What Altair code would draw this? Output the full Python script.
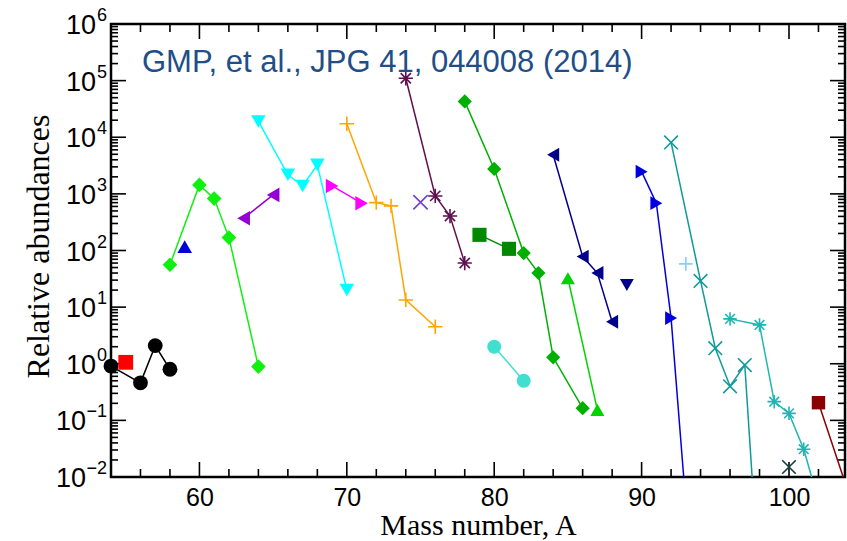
import altair as alt
import pandas as pd

# ---------------- data ----------------
series_names = [
    "black circles", "red square", "lime diamonds", "blue triangle-up",
    "violet triangles-left", "cyan triangles-down", "magenta triangles-right",
    "orange plus", "violet x", "maroon asterisks", "green diamonds",
    "dark green squares", "green triangles-up", "turquoise circles",
    "navy triangles-left", "navy triangle-down", "blue triangles-right",
    "light blue plus", "teal x", "dark teal x", "sea green asterisks",
    "dark red squares",
]

A_black = [54, 56, 57, 58]
v_black = [0.91, 0.46, 2.09, 0.80]
A_red = [55]
v_red = [1.06]
A_lime = [58, 60, 61, 62, 64]
v_lime = [56, 1440, 826, 169, 0.89]
A_blue_up = [59]
v_blue_up = [117]
A_violet_left = [63, 65]
v_violet_left = [372, 960]
A_cyan = [64, 66, 67, 68, 70]
v_cyan = [19000, 2170, 1380, 3250, 20]
A_magenta = [69, 71]
v_magenta = [1380, 684]
A_orange = [70, 72, 73, 74, 76]
v_orange = [17300, 700, 615, 13.4, 4.5]
A_violet_x = [75]
v_violet_x = [711]
A_maroon = [74, 76, 77, 78]
v_maroon = [110000, 920, 406, 60]
A_green = [78, 80, 82, 83, 84, 86]
v_green = [43000, 2760, 90, 40, 1.3, 0.164]
A_dkgreen = [79, 81]
v_dkgreen = [189, 107]
A_green_up = [85, 87]
v_green_up = [32.4, 0.153]
A_turq = [80, 82]
v_turq = [2.0, 0.50]
A_navy_left = [84, 86, 87, 88]
v_navy_left = [4900, 78, 40, 5.5]
A_navy_down = [89]
v_navy_down = [24.7]
A_blue_right = [90, 91, 92, 93]
v_blue_right = [2470, 684, 6.4, 0.0034]
A_ltblue = [93]
v_ltblue = [58]
A_teal_x = [92, 94, 95, 96, 97, 98]
v_teal_x = [8100, 29, 1.88, 0.40, 0.95, 0.0001]
A_dkteal_x = [100]
v_dkteal_x = [0.015]
A_seagreen = [96, 98, 99, 100, 101, 102]
v_seagreen = [6.2, 4.85, 0.214, 0.133, 0.031, 0.0038]
A_dkred = [102, 104]
v_dkred = [0.205, 0.0056]

x_major_ticks = [60, 70, 80, 90, 100]
x_minor_ticks = [56, 58, 62, 64, 66, 68, 72, 74, 76, 78, 82, 84, 86, 88, 92, 94, 96, 98, 102]
y_exponents = [-2, -1, 0, 1, 2, 3, 4, 5, 6]
y_minor_mult = [2, 3, 4, 5, 6, 7, 8, 9]

citation = "GMP, et al., JPG 41, 044008 (2014)"
x_title = "Mass number, A"
y_title = "Relative abundances"

# ---------------- styles ----------------
PLUS = "M-1,0L1,0M0,-1L0,1"
CROSS = "M-1,-1L1,1M-1,1L1,-1"
STAR = "M-1,0L1,0M0,-1L0,1M-0.72,-0.72L0.72,0.72M-0.72,0.72L0.72,-0.72"

series_colors = [
    "#000000", "#ff0000", "#10f010", "#0000dd", "#9400d3", "#00ffff",
    "#ff00ff", "#ffa500", "#7040d0", "#601050", "#00b000", "#008800",
    "#00d400", "#40e0d0", "#00008b", "#00008b", "#0000e0", "#87cefa",
    "#109a9a", "#104040", "#1fb5b5", "#8b0000",
]
series_shapes = [
    "circle", "square", "diamond", "triangle-up", "triangle-left",
    "triangle-down", "triangle-right", PLUS, CROSS, STAR, "diamond",
    "square", "triangle-up", "circle", "triangle-left", "triangle-down",
    "triangle-right", PLUS, CROSS, CROSS, STAR, "square",
]
series_filled = [
    True, True, True, True, True, True, True, False, False, False, True,
    True, True, True, True, True, True, False, False, False, False, True,
]
series_sizes = [
    220, 180, 230, 250, 250, 260, 250, 220, 120, 190, 230,
    200, 250, 200, 250, 250, 250, 220, 120, 120, 190, 190,
]

all_A = [A_black, A_red, A_lime, A_blue_up, A_violet_left, A_cyan, A_magenta,
         A_orange, A_violet_x, A_maroon, A_green, A_dkgreen, A_green_up, A_turq,
         A_navy_left, A_navy_down, A_blue_right, A_ltblue, A_teal_x, A_dkteal_x,
         A_seagreen, A_dkred]
all_v = [v_black, v_red, v_lime, v_blue_up, v_violet_left, v_cyan, v_magenta,
         v_orange, v_violet_x, v_maroon, v_green, v_dkgreen, v_green_up, v_turq,
         v_navy_left, v_navy_down, v_blue_right, v_ltblue, v_teal_x, v_dkteal_x,
         v_seagreen, v_dkred]

X_MIN, X_MAX = 54, 103.8
Y_MIN, Y_MAX = 0.01, 1e6

rows = []
for name, filled, As, vs in zip(series_names, series_filled, all_A, all_v):
    for a, v in zip(As, vs):
        rows.append({"series": name, "filled": filled, "A": a, "v": v})
df = pd.DataFrame(rows)

W, H = 734, 453

x_scale = alt.Scale(domain=[X_MIN, X_MAX], nice=False, zero=False)
y_scale = alt.Scale(type="log", domain=[Y_MIN, Y_MAX], nice=False)

x_axis = alt.Axis(
    values=x_major_ticks, format="d", grid=False, domain=False, ticks=False,
    tickSize=0, labelFont="Liberation Sans", labelFontSize=25,
    labelColor="black", labelPadding=28, labelBaseline="alphabetic",
    labelOverlap=False, labelFlush=False,
    title=x_title, titleFont="Liberation Serif", titleFontSize=30,
    titleFontWeight="normal", titleColor="black", titleX=367, titleY=57,
    titleAlign="center", titleBaseline="alphabetic",
)
y_axis = alt.Axis(
    labels=False, ticks=False, tickSize=0, domain=False, grid=False,
    title=y_title, titleFont="Liberation Serif", titleFontSize=32,
    titleFontWeight="normal", titleColor="black", titleX=-73, titleY=222,
    titleAngle=270, titleAlign="center", titleBaseline="middle",
)


def X(field="A"):
    return alt.X(f"{field}:Q", scale=x_scale, axis=x_axis)


def Y(field="v"):
    return alt.Y(f"{field}:Q", scale=y_scale, axis=y_axis)


color_enc = alt.Color("series:N", scale=alt.Scale(domain=series_names, range=series_colors), legend=None)
shape_enc = alt.Shape("series:N", scale=alt.Scale(domain=series_names, range=series_shapes), legend=None)
size_enc = alt.Size("series:N", scale=alt.Scale(domain=series_names, range=series_sizes), legend=None)

# ---------------- ticks (inward, all four sides) ----------------
xmaj = pd.DataFrame({"A": x_major_ticks})
xmin = pd.DataFrame({"A": x_minor_ticks})
ymaj = pd.DataFrame({"v": [10.0 ** e for e in y_exponents]})
ymin = pd.DataFrame({"v": [m * 10.0 ** e for e in y_exponents[:-1] for m in y_minor_mult]})

tick_layers = []
for d, L in ((xmaj, 15), (xmin, 8)):
    tick_layers.append(alt.Chart(d).mark_rule(color="black", strokeWidth=1.6).encode(
        x=X(), y=alt.value(H), y2=alt.value(H - L)))
    tick_layers.append(alt.Chart(d).mark_rule(color="black", strokeWidth=1.6).encode(
        x=X(), y=alt.value(0), y2=alt.value(L)))
for d, L in ((ymaj, 15), (ymin, 7)):
    tick_layers.append(alt.Chart(d).mark_rule(color="black", strokeWidth=1.6).encode(
        y=Y(), x=alt.value(0), x2=alt.value(L)))
    tick_layers.append(alt.Chart(d).mark_rule(color="black", strokeWidth=1.6).encode(
        y=Y(), x=alt.value(W - L), x2=alt.value(W)))

# ---------------- series ----------------
in_view = f"datum.A >= {X_MIN} && datum.A <= {X_MAX} && datum.v >= {Y_MIN} && datum.v <= {Y_MAX}"

lines = alt.Chart(df).mark_line(strokeWidth=1.5, clip=True).encode(
    x=X(), y=Y(), color=color_enc, detail="series:N", order="A:Q")

filled_pts = alt.Chart(df).transform_filter("datum.filled").transform_filter(in_view).mark_point(
    filled=True, opacity=1).encode(
    x=X(), y=Y(), color=color_enc, shape=shape_enc, size=size_enc)

open_pts = alt.Chart(df).transform_filter("!datum.filled").transform_filter(in_view).mark_point(
    filled=False, opacity=1, strokeWidth=1.6).encode(
    x=X(), y=Y(), color=color_enc, shape=shape_enc, size=size_enc)

# ---------------- y tick labels 10^n ----------------
ylab = pd.DataFrame({
    "e": y_exponents,
    "v": [10.0 ** e for e in y_exponents],
    "base": ["10"] * len(y_exponents),
    "sup": [("\u2212" + str(-e)) if e < 0 else str(e) for e in y_exponents],
})
base_pos = alt.Chart(ylab).transform_filter("datum.e >= 0").mark_text(
    align="right", baseline="middle", font="Liberation Sans", fontSize=27,
    color="black", dy=2).encode(x=alt.value(-15), y=Y(), text="base:N")
base_neg = alt.Chart(ylab).transform_filter("datum.e < 0").mark_text(
    align="right", baseline="middle", font="Liberation Sans", fontSize=27,
    color="black", dy=2).encode(x=alt.value(-25), y=Y(), text="base:N")
sups = alt.Chart(ylab).mark_text(
    align="right", baseline="middle", font="Liberation Sans", fontSize=18,
    color="black", dy=-8).encode(x=alt.value(-4), y=Y(), text="sup:N")

cite = alt.Chart(pd.DataFrame({"t": [citation]})).mark_text(
    align="left", baseline="alphabetic", font="Liberation Sans", fontSize=31,
    color="#1f4e88").encode(x=alt.value(31), y=alt.value(48), text="t:N")

chart = alt.layer(
    *tick_layers, lines, filled_pts, open_pts, base_pos, base_neg, sups, cite
).properties(
    width=W, height=H,
    autosize=alt.AutoSizeParams(type="none"),
    padding={"left": 111, "top": 24, "right": 2, "bottom": 64},
    background="white",
).configure_view(stroke="black", strokeWidth=2.5)

chart.save("out.html", embed_options={"renderer": "svg", "actions": False})
